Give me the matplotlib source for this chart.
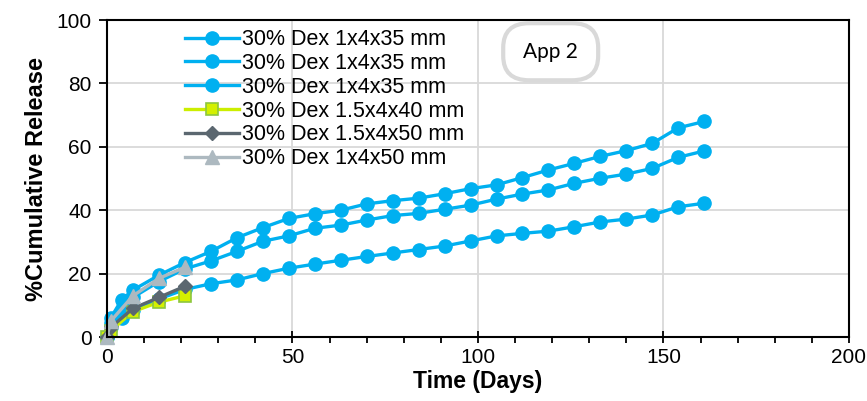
import numpy as np
import matplotlib.pyplot as plt
from matplotlib.patches import FancyBboxPatch

plt.rcParams['font.family'] = ['Liberation Sans', 'DejaVu Sans']

# sampling days
t_long = [0, 1, 4, 7, 14, 21, 28, 35, 42, 49, 56, 63, 70, 77, 84, 91, 98,
          105, 112, 119, 126, 133, 140, 147, 154, 161]
t_short = [0, 1, 7, 14, 21]

# 30% Dex 1x4x35 mm (three replicates)
rep_a = [0, 6, 11.8, 14.8, 19.5, 23.5, 27, 31.3, 34.5, 37.4, 38.9, 40, 42, 43,
         43.8, 45.2, 46.8, 48, 50.3, 52.7, 54.8, 57, 58.8, 61.1, 66, 68]
rep_b = [0, 4.5, 8.5, 12.5, 17.5, 21.5, 24, 27, 30.2, 31.9, 34.3, 35.3, 36.9,
         38.3, 39, 40.3, 41.6, 43.5, 45.1, 46.4, 48.5, 50.1, 51.4, 53.2, 56.7, 58.7]
rep_c = [0, 3, 6, 8.5, 12, 15, 16.8, 18, 20, 21.7, 23, 24.2, 25.4, 26.5, 27.6,
         28.7, 30.3, 31.9, 32.7, 33.4, 34.8, 36.3, 37.2, 38.5, 41.1, 42.2]
dex_15x4x40 = [0, 2, 8, 11, 13]
dex_15x4x50 = [0, 3, 9, 12.5, 16]
dex_1x4x50 = [0, 5, 13, 18.5, 22]

blue = '#00B0F0'

fig = plt.figure(figsize=(8.67, 4.01), dpi=100)
ax = fig.add_axes([0.1234, 0.1596, 0.8558, 0.7904])

for y in (rep_a, rep_b, rep_c):
    ax.plot(t_long, y, color=blue, lw=2.4, marker='o', ms=9.5,
            label='30% Dex 1x4x35 mm', zorder=3)
ax.plot(t_short, dex_15x4x40, color='#CCEE00', lw=2.4, marker='s', ms=8,
        mfc='#D4F000', mec='#8DC63F', mew=1.2, label='30% Dex 1.5x4x40 mm', zorder=4)
ax.plot(t_short, dex_15x4x50, color='#5B6770', lw=2.4, marker='D', ms=7,
        label='30% Dex 1.5x4x50 mm', zorder=5)
ax.plot(t_short, dex_1x4x50, color='#ADB9C0', lw=2.4, marker='^', ms=10,
        label='30% Dex 1x4x50 mm', zorder=6)

ax.set_xlim(0, 200)
ax.set_ylim(0, 100)
ax.set_xticks([0, 50, 100, 150, 200])
ax.set_xticks(np.arange(0, 201, 10), minor=True)
ax.set_yticks(np.arange(0, 101, 20))
ax.tick_params(axis='both', labelsize=15, width=1.3, color='black')
ax.tick_params(axis='y', length=6, direction='out', pad=5)
ax.tick_params(axis='x', which='major', length=8, direction='inout', pad=4)
ax.tick_params(axis='x', which='minor', length=4, direction='out', width=1.3)
ax.grid(True, color='#D9D9D9', lw=1.3)
ax.set_axisbelow(True)
for s in ax.spines.values():
    s.set_linewidth(1.5)
    s.set_zorder(7)
for line in ax.lines:
    line.set_clip_on(False)

ax.set_xlabel('Time (Days)', fontsize=16.5, fontweight='bold', labelpad=2)
ax.set_ylabel('%Cumulative Release', fontsize=17, fontweight='bold', labelpad=6)

ax.legend(loc='upper left', bbox_to_anchor=(0.088, 1.012), frameon=False,
          fontsize=15.5, handlelength=2.5, labelspacing=0.13, handletextpad=0.15,
          borderaxespad=0.2)

box = FancyBboxPatch((0.534, 0.81), 0.128, 0.18, transform=ax.transAxes,
                     boxstyle='round,pad=0,rounding_size=0.035',
                     fc='white', ec='#D9D9D9', lw=3, zorder=8, mutation_aspect=2.2)
ax.add_patch(box)
ax.text(0.598, 0.9, 'App 2', transform=ax.transAxes, ha='center', va='center',
        fontsize=15, family=['Lato', 'DejaVu Sans'], zorder=9)

fig.savefig('out.png', dpi=100)
